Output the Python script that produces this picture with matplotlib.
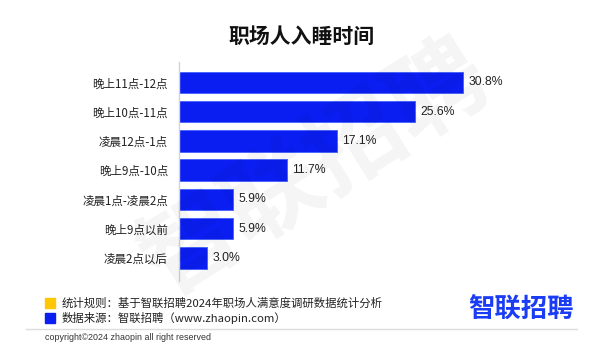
import matplotlib
matplotlib.use("Agg")
import matplotlib.pyplot as plt

plt.rcParams['font.family'] = ['Noto Sans CJK SC', 'DejaVu Sans']

categories = ["晚上11点-12点", "晚上10点-11点", "凌晨12点-1点", "晚上9点-10点",
              "凌晨1点-凌晨2点", "晚上9点以前", "凌晨2点以后"]
values = [30.8, 25.6, 17.1, 11.7, 5.9, 5.9, 3.0]
value_labels = ["30.8%", "25.6%", "17.1%", "11.7%", "5.9%", "5.9%", "3.0%"]

title = "职场人入睡时间"
note_rule = "统计规则：基于智联招聘2024年职场人满意度调研数据统计分析"
note_source = "数据来源：智联招聘（www.zhaopin.com）"
copyright_text = "copyright©2024 zhaopin all right reserved"
logo_text = "智联招聘"

W, H = 600, 358
fig = plt.figure(figsize=(6, 3.58), dpi=100)

# axes: x=0 at px 179, 9.22 px per percent; y from px 62 to 281
ax = fig.add_axes([179 / W, 1 - 281 / H, 36 * 9.22 / W, (281 - 62) / H])
ax.patch.set_visible(False)

pos = list(range(len(categories)))
ax.barh(pos, values, height=0.735, color="#0a1ef2", edgecolor="#4d66ff",
        linewidth=0.7, zorder=2)
for p, v, lab in zip(pos, values, value_labels):
    ax.text(v + 0.6, p, lab, va="center", ha="left", fontsize=8.8,
            family=["Liberation Sans"], color="#222222")

ax.set_xlim(0, 36)
ax.set_ylim(6.79, -0.70)
ax.set_yticks(pos)
ax.set_yticklabels(categories, fontsize=8.3, color="#222222")
ax.tick_params(axis="y", length=0, pad=8)
ax.set_xticks([])
for s in ["top", "right", "bottom"]:
    ax.spines[s].set_visible(False)
ax.spines["left"].set_color("#d4d4d4")
ax.spines["left"].set_linewidth(1.0)

# watermark, very faint
fig.text(316 / W, 1 - 170 / H, logo_text, fontsize=70, rotation=32,
         ha="center", va="center", color="black", alpha=0.045,
         weight="bold", zorder=0)

fig.text(302 / W, 1 - 36 / H, title, fontsize=15, weight="bold",
         ha="center", va="center", color="#111111")

# footer
fig.patches.append(plt.Rectangle((45 / W, 1 - 308 / H), 10 / W, 10 / H,
                                 transform=fig.transFigure, color="#ffc700"))
fig.patches.append(plt.Rectangle((45 / W, 1 - 323 / H), 10 / W, 10 / H,
                                 transform=fig.transFigure, color="#0a1ef2"))
fig.text(62 / W, 1 - 303 / H, note_rule, fontsize=8.2, va="center",
         color="#222222")
fig.text(62 / W, 1 - 318 / H, note_source, fontsize=8.2, va="center",
         color="#222222")
fig.add_artist(plt.Line2D([26 / W, 577 / W], [1 - 329 / H, 1 - 329 / H],
                          color="#dddddd", linewidth=1.0))
fig.text(45 / W, 1 - 337 / H, copyright_text, fontsize=6.4, va="center",
         family=["Liberation Sans"], color="#333333")
fig.text(468 / W, 1 - 310 / H, logo_text, fontsize=19, weight="heavy",
         va="center", ha="left", color="#1a3cf5")

fig.savefig("out.png", dpi=100)
